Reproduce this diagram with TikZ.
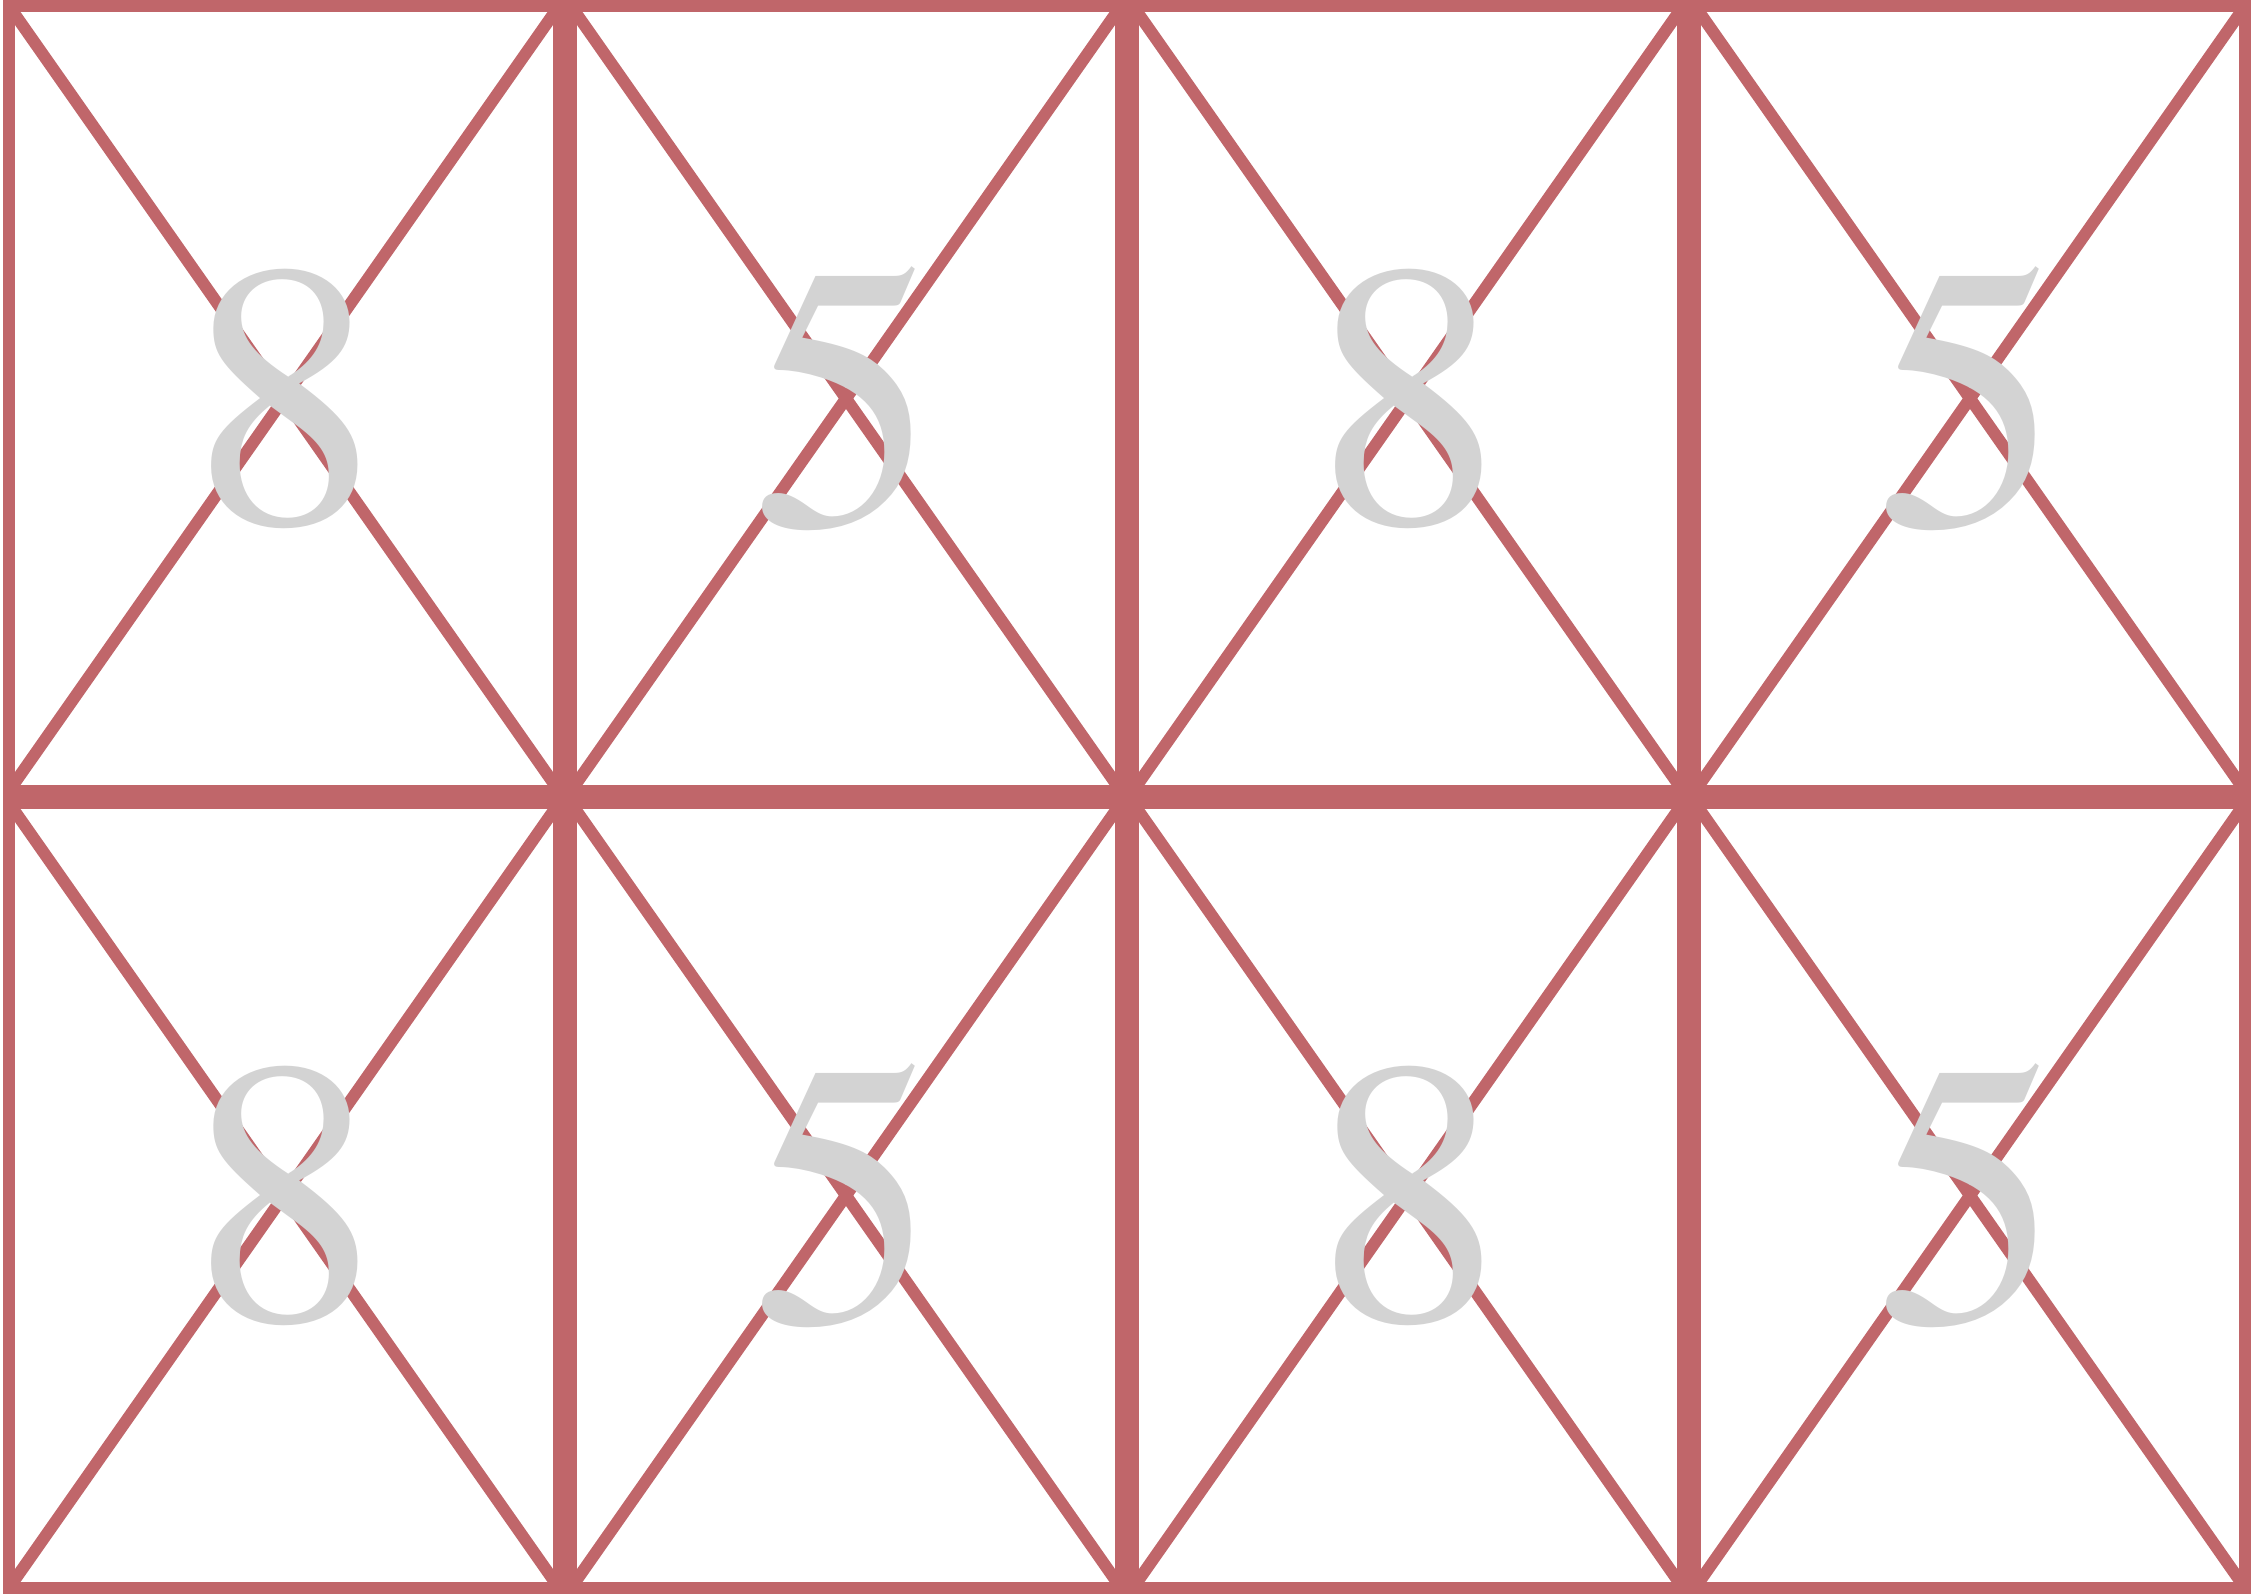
\documentclass[tikz,border=0pt]{standalone}
\usepackage{fontspec}
\newfontfamily\digfont{texgyretermes-regular.otf}
\definecolor{gridred}{RGB}{192,102,106}
\definecolor{digitgray}{RGB}{211,211,211}
\tikzset{
  cellline/.style={draw=gridred, line width=0.12cm, line join=miter},
  digit/.style={text=digitgray, font=\digfont\fontsize{107pt}{107pt}\selectfont, inner sep=0pt}
}
\begin{document}
\begin{tikzpicture}[x=0.01cm,y=-0.01cm]
\useasboundingbox (0,0) rectangle (2254,1594);
\foreach \c in {0,1,2,3}{
  \foreach \r in {0,1}{
    \pgfmathsetmacro{\xa}{3+562*\c+6}
    \pgfmathsetmacro{\xb}{3+562*(\c+1)-6}
    \pgfmathsetmacro{\ya}{797*\r+6}
    \pgfmathsetmacro{\yb}{797*(\r+1)-6}
    \draw[cellline] (\xa,\ya) rectangle (\xb,\yb);
    \draw[cellline] (\xa,\ya) -- (\xb,\yb);
    \draw[cellline] (\xb,\ya) -- (\xa,\yb);
  }
}
\node[digit] (d1) at (285,399) {8};
\node[digit] (d2) at (845,399) {5};
\node[digit] (d3) at (1409,399) {8};
\node[digit] (d4) at (1969,399) {5};
\node[digit] (d5) at (285,1196) {8};
\node[digit] (d6) at (845,1196) {5};
\node[digit] (d7) at (1409,1196) {8};
\node[digit] (d8) at (1969,1196) {5};
\end{tikzpicture}
\end{document}
